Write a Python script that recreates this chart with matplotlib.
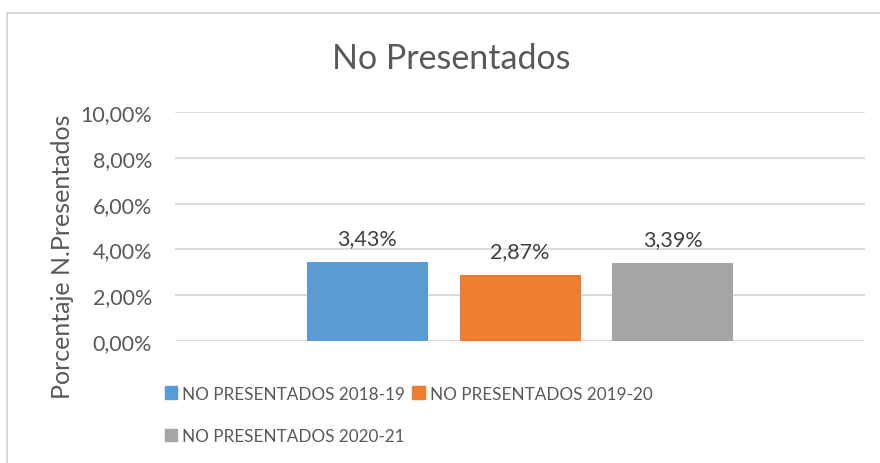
import matplotlib
matplotlib.use("Agg")
import matplotlib.pyplot as plt
from matplotlib.patches import Rectangle, Patch

series = ["NO PRESENTADOS 2018-19", "NO PRESENTADOS 2019-20", "NO PRESENTADOS 2020-21"]
values = [0.0343, 0.0287, 0.0339]
colors = ["#5b9bd5", "#ed7d31", "#a5a5a5"]
yticks = [0.0, 0.02, 0.04, 0.06, 0.08, 0.10]
title = "No Presentados"
ylabel = "Porcentaje N.Presentados"

plt.rcParams['font.family'] = ['Lato', 'DejaVu Sans']
txt = "#595959"

W, H = 880, 464
fig = plt.figure(figsize=(W/100, H/100), dpi=100)

# chart border
fig.patches.append(Rectangle((6.5/W, -0.1), 2.0, (H-13.5)/H + 0.1, transform=fig.transFigure,
                             fill=False, edgecolor="#d9d9d9", linewidth=1.5))

ax = fig.add_axes([175/W, 122/H, 690/W, (342-113)/H])
x = list(range(len(values)))
bars = ax.bar(x, values, width=121/153, color=colors)
ax.set_xlim(-1.258, 3.257)
ax.set_ylim(0, 0.10)
ax.set_yticks(yticks)
ax.set_yticklabels([f"{v*100:.2f}%".replace(".", ",") for v in yticks], color=txt, fontsize=15.5)
ax.tick_params(axis='y', length=0, pad=16.5)
ax.set_xticks([])
for s in ax.spines.values():
    s.set_visible(False)
ax.grid(axis='y', color="#d9d9d9", linewidth=1.3)
ax.set_axisbelow(True)
for b, v in zip(bars, values):
    ax.annotate(f"{v*100:.2f}%".replace(".", ","), (b.get_x()+b.get_width()/2, v),
                xytext=(0, 10), textcoords="offset points", ha="center", va="bottom",
                color="#404040", fontsize=15.5)

fig.text(451/W, 1-59/H, title, ha="center", va="center", fontsize=24.5, color=txt)
fig.text(62/W, 1-257/H, ylabel, rotation=90, ha="center", va="center", fontsize=18, color=txt)

handles = [Patch(color=c) for c in colors]
order = [0, 2, 1]
fig.legend([handles[i] for i in order], [series[i] for i in order], ncol=2,
           loc="upper left", bbox_to_anchor=(156/W, 1-378/H), frameon=False,
           fontsize=12.3, labelcolor=txt, handlelength=0.75, handleheight=0.75,
           handletextpad=0.3, columnspacing=0.4, labelspacing=1.55, borderpad=0)

fig.savefig("out.png", dpi=100)
